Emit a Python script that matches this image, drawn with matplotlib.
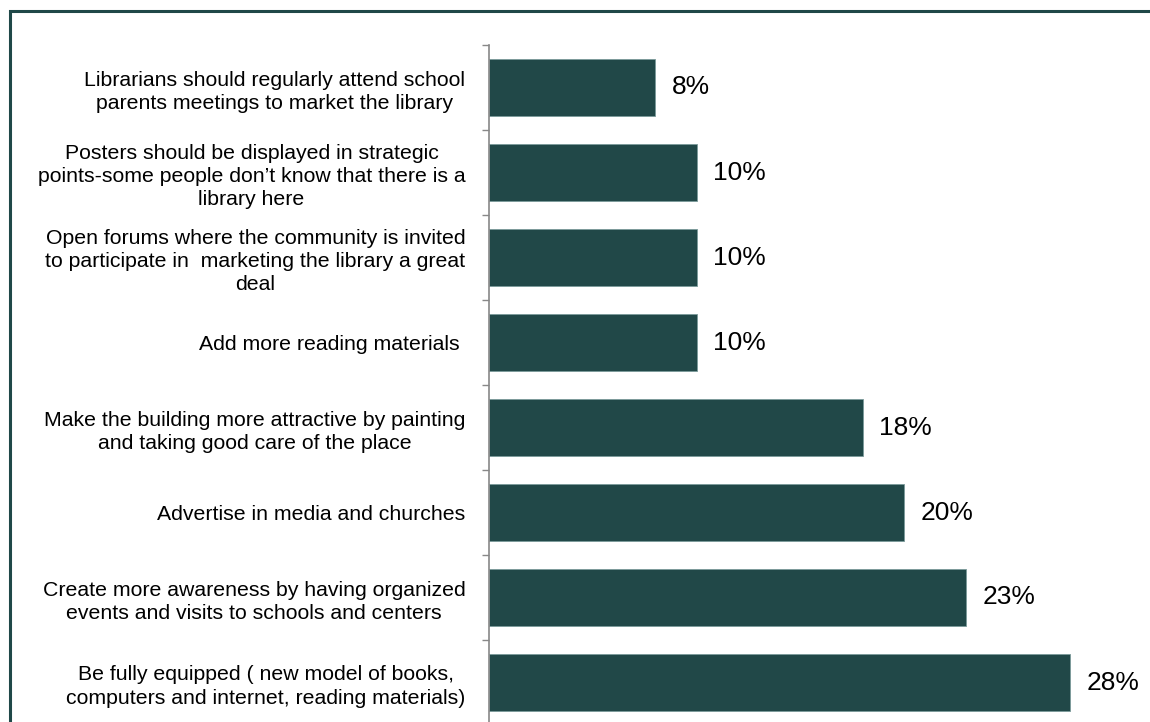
import matplotlib
matplotlib.use("Agg")
import matplotlib.pyplot as plt
from matplotlib.patches import Rectangle

plt.rcParams['font.family'] = ['Liberation Sans', 'DejaVu Sans']

# top to bottom as in the chart
labels = [
    "Librarians should regularly attend school\nparents meetings to market the library",
    "Posters should be displayed in strategic\npoints-some people don\u2019t know that there is a\nlibrary here",
    "Open forums where the community is invited\nto participate in  marketing the library a great\ndeal",
    "Add more reading materials ",
    "Make the building more attractive by painting\nand taking good care of the place",
    "Advertise in media and churches",
    "Create more awareness by having organized\nevents and visits to schools and centers",
    "Be fully equipped ( new model of books,\ncomputers and internet, reading materials)",
]
values = [8, 10, 10, 10, 18, 20, 23, 28]

bar_color = '#214848'
W, H = 1150, 722

fig = plt.figure(figsize=(W / 100, H / 100), dpi=100)
ax = fig.add_axes([489 / W, 1 - 725 / H, 622.5 / W, 680 / H])

n = len(labels)
pos = list(range(n - 1, -1, -1))
ax.barh(pos, values, height=0.66, color=bar_color, edgecolor='#7a9a9a', linewidth=0.6)

for p, v in zip(pos, values):
    ax.annotate(f"{v}%", (v, p), xytext=(12, 0), textcoords='offset points',
                va='center', ha='left', fontsize=19, color='black')

ax.set_xlim(0, 30)
ax.set_ylim(-0.5, n - 0.5)

# major ticks at category boundaries, labels on minor ticks at centres
ax.set_yticks([i - 0.5 for i in range(n + 1)])
ax.set_yticklabels([])
ax.tick_params(axis='y', which='major', length=5, width=1, color='#888888', direction='out')
ax.set_yticks(pos, minor=True)
ax.set_yticklabels(labels, minor=True, fontsize=15.3, multialignment='center',
                   linespacing=1.27)
ax.tick_params(axis='y', which='minor', length=0, pad=17)

ax.set_xticks([])
for s in ['top', 'right', 'bottom']:
    ax.spines[s].set_visible(False)
ax.spines['left'].set_color('#888888')
ax.spines['left'].set_linewidth(1.2)

# outer frame of the slide
fig.patches.append(Rectangle((9.5 / W, -0.05), 1.1, 1.05 - 10.5 / H,
                             transform=fig.transFigure, fill=False,
                             edgecolor='#1f4848', linewidth=2.2))

fig.savefig('out.png', dpi=100)
